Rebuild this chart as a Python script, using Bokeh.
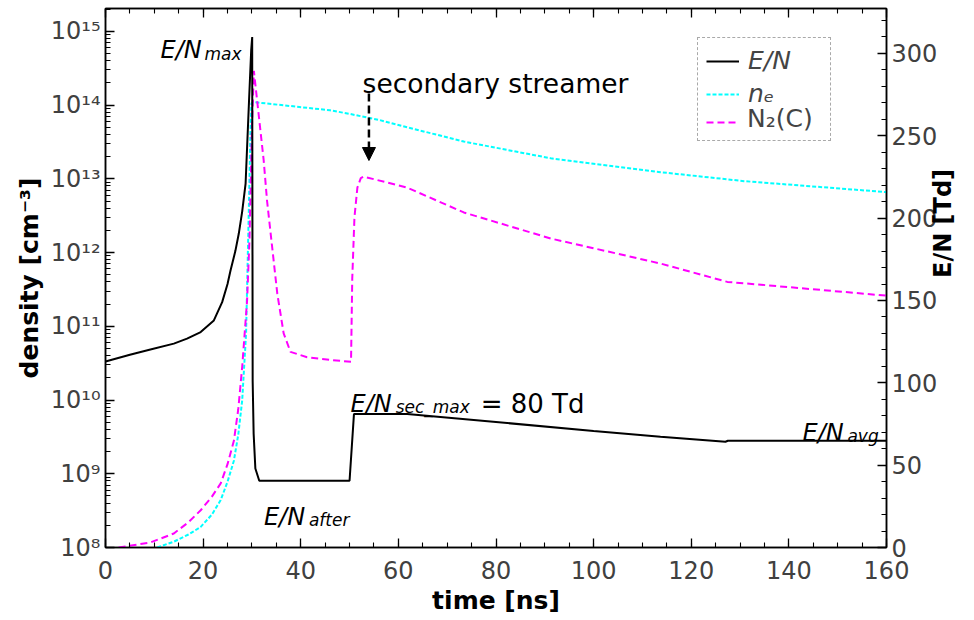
import math
from bokeh.plotting import figure
from bokeh.models import (Range1d, LinearAxis, LinearScale, FixedTicker, SingleIntervalTicker,
                          Label, Arrow, NormalHead, Legend, LegendItem, CustomJSTickFormatter)
from bokeh.embed import file_html
from bokeh.resources import INLINE

# ---------------- data ----------------
# reduced electric field E/N (Td, right axis)
t_en = [0, 5, 9.2, 14, 16.7, 19.5, 22.2, 23.9, 25.0, 25.6, 26.6, 27.3, 28.0, 28.7, 29.4, 29.85, 30.05,
        30.15, 30.35, 30.7, 31.5, 50.0, 50.9, 61.8, 80, 100, 113.7, 127, 127.5, 160]
en_td = [113, 117, 120.2, 123.8, 126.8, 130.8, 137.9, 149, 160, 168, 180, 190.5, 204, 221, 271, 302, 310,
         101, 69, 48, 40.5, 40.5, 81, 81, 76.2, 70.7, 67.2, 64.2, 64.8, 64.8]

# electron density n_e (cm^-3, left axis)
t_ne = [10.6, 14, 17, 19.5, 21.8, 23.6, 25.0, 26.3, 27.2, 28.0, 28.8, 29.4, 29.7, 29.9, 30.2,
        46.0, 50.0, 56.4, 61.8, 73.4, 91.2, 113.7, 130.8, 160]
ne = [1.0e8, 1.2e8, 1.5e8, 1.9e8, 2.8e8, 4.4e8, 7.8e8, 1.5e9, 3.4e9, 9.8e9, 8.0e10, 5.0e12,
      4.5e13, 1.05e14, 1.1e14, 8.5e13, 7.6e13, 6.2e13, 5.0e13, 3.2e13, 1.9e13, 1.23e13,
      9.3e12, 6.6e12]

# N2(C) density (cm^-3, left axis)
t_n2 = [2.7, 9.2, 14, 17, 19.5, 21.8, 23.6, 25.0, 26.3, 27.2, 28.0, 29.0, 29.5, 30.0, 30.4,
        32.4, 33.1, 35.2, 36.5, 37.9, 41.3, 46.1, 50.3, 50.55, 51.0, 51.6, 52.3, 52.9, 61.8,
        73.4, 91.2, 113.7, 127.4, 144.5, 160]
n2c = [1.0e8, 1.17e8, 1.55e8, 2.2e8, 3.2e8, 4.9e8, 7.4e8, 1.35e9, 2.8e9, 7.5e9, 2.8e10,
       2.2e11, 1.5e12, 5e13, 2.9e14, 1.8e13, 5e12, 2.75e11, 8e10, 4.5e10, 3.8e10, 3.5e10,
       3.3e10, 4.4e11, 3.0e12, 7.6e12, 1.02e13, 1.07e13, 7.6e12, 3.5e12, 1.55e12, 7.1e11,
       4.0e11, 3.2e11, 2.6e11]

decades = [8, 9, 10, 11, 12, 13, 14, 15]
sup = {"0": "⁰", "1": "¹", "2": "²", "3": "³", "4": "⁴", "5": "⁵", "6": "⁶", "7": "⁷", "8": "⁸", "9": "⁹"}
dec_labels = ["10" + "".join(sup[c] for c in str(d)) for d in decades]

FONT = "DejaVu Sans"
TICK_COLOR = "#404040"

p = figure(width=974, height=620,
           min_border_left=105, min_border_right=88, min_border_top=8, min_border_bottom=73,
           x_range=Range1d(0, 160), y_range=Range1d(1e8, 2.04e15), y_axis_type="log",
           output_backend="svg", toolbar_location=None)
p.extra_y_ranges = {"td": Range1d(0, 327.3)}
p.extra_y_scales = {"td": LinearScale()}
p.xgrid.visible = False
p.ygrid.visible = False
p.outline_line_color = "black"
p.outline_line_width = 1.5
p.background_fill_color = "white"
p.border_fill_color = "white"


def style_axis(ax, labels=True):
    ax.axis_line_color = "black"
    ax.axis_line_width = 1.5
    ax.major_tick_in = 9
    ax.major_tick_out = 0
    ax.minor_tick_in = 5
    ax.minor_tick_out = 0
    ax.major_tick_line_color = "black"
    ax.minor_tick_line_color = "black"
    ax.major_tick_line_width = 1.3
    ax.minor_tick_line_width = 1.1
    ax.major_label_text_font = FONT
    ax.major_label_text_color = TICK_COLOR
    ax.major_label_text_font_size = "24px" if labels else "0px"
    ax.axis_label_text_font = FONT
    ax.axis_label_text_font_size = "25px"
    ax.axis_label_text_font_style = "bold"
    ax.axis_label_text_color = "black"


# bottom x axis
xb = p.xaxis[0]
xb.ticker = SingleIntervalTicker(interval=20, num_minor_ticks=4)
style_axis(xb)
xb.axis_label = "time [ns]"
xb.major_label_standoff = 13
xb.axis_label_standoff = 4

# left log axis
yl = p.yaxis[0]
minor = [k * 10.0 ** d for d in decades for k in range(2, 10)]
yl.ticker = FixedTicker(ticks=[10.0 ** d for d in decades], minor_ticks=minor)
yl.major_label_overrides = {10.0 ** d: lab for d, lab in zip(decades, dec_labels)}
style_axis(yl)
yl.axis_label = "density [cm⁻³]"
yl.major_label_standoff = 5
yl.axis_label_standoff = 4

# right linear axis (Td)
yr = LinearAxis(y_range_name="td", ticker=SingleIntervalTicker(interval=50, num_minor_ticks=5))
style_axis(yr)
yr.major_label_standoff = 5
yr.axis_label = "E/N [Td]"
yr.axis_label_standoff = 3
yr.axis_label_text_font_size = "24px"
yr.axis_label_text_baseline = "top"
try:
    yr.axis_label_orientation = math.pi / 2
except Exception:
    pass
p.add_layout(yr, "right")

# top mirrored ticks (no labels)
xt = LinearAxis(ticker=SingleIntervalTicker(interval=20, num_minor_ticks=4),
                formatter=CustomJSTickFormatter(code="return ''"))
style_axis(xt, labels=False)
xt.major_label_standoff = 0
p.add_layout(xt, "above")

# ---------------- curves ----------------
r_ne = p.line(t_ne, ne, line_color="#00ffff", line_width=2, line_dash="4 2")
r_n2 = p.line(t_n2, n2c, line_color="#ff00ff", line_width=2, line_dash="7 4")
r_en = p.line(t_en, en_td, y_range_name="td", line_color="black", line_width=2)

# ---------------- legend ----------------
legA = Legend(items=[LegendItem(label="E/N", renderers=[r_en]),
                     LegendItem(label="nₑ", renderers=[r_ne]),
                     LegendItem(label="", renderers=[r_n2])],
              location=(592, 406), margin=0, padding=8, spacing=4,
              glyph_width=33, glyph_height=20, label_standoff=9, label_width=74,
              label_text_font=FONT, label_text_font_size="25px", label_text_font_style="italic",
              border_line_color="#555555", border_line_dash="1 1", border_line_width=1,
              background_fill_color="white", background_fill_alpha=1)
p.add_layout(legA)
legB = Legend(items=[LegendItem(label="N₂(C)", renderers=[r_n2])],
              location=(625, 406), margin=0, padding=8, spacing=4,
              glyph_width=0, glyph_height=20, label_standoff=9,
              label_text_font=FONT, label_text_font_size="25px", label_text_font_style="normal",
              border_line_alpha=0, background_fill_alpha=0)
p.add_layout(legB)


# ---------------- annotations ----------------
def lab(x, y, text, size="24px", style="italic", **kw):
    l = Label(x=x, y=y, text=text, y_range_name="td", text_font=FONT, text_font_size=size,
              text_font_style=style, text_color="black", text_baseline="alphabetic", **kw)
    p.add_layout(l)
    return l


lab(11.27, 301.8, "E/N")
lab(20.29, 299.9, "max", size="17px")
lab(32.45, 18.4, "E/N")
lab(41.67, 16.4, "after", size="17px")
lab(50.21, 87.25, "E/N")
lab(59.44, 85.6, "sec_max", size="17px")
lab(76.86, 87.25, "= 80 Td", size="26px", style="normal")
lab(142.8, 69.4, "E/N")
lab(152.0, 68.0, "avg", size="17px")
lab(52.67, 281.9, "secondary streamer", size="26.5px", style="normal")

p.add_layout(Arrow(end=NormalHead(size=13, fill_color="black", line_color="black"),
                   x_start=53.97, y_start=275.7, x_end=53.97, y_end=235,
                   y_range_name="td", line_color="black", line_width=2.5, line_dash="8 4"))

open("out.html", "w").write(file_html(p, INLINE))
